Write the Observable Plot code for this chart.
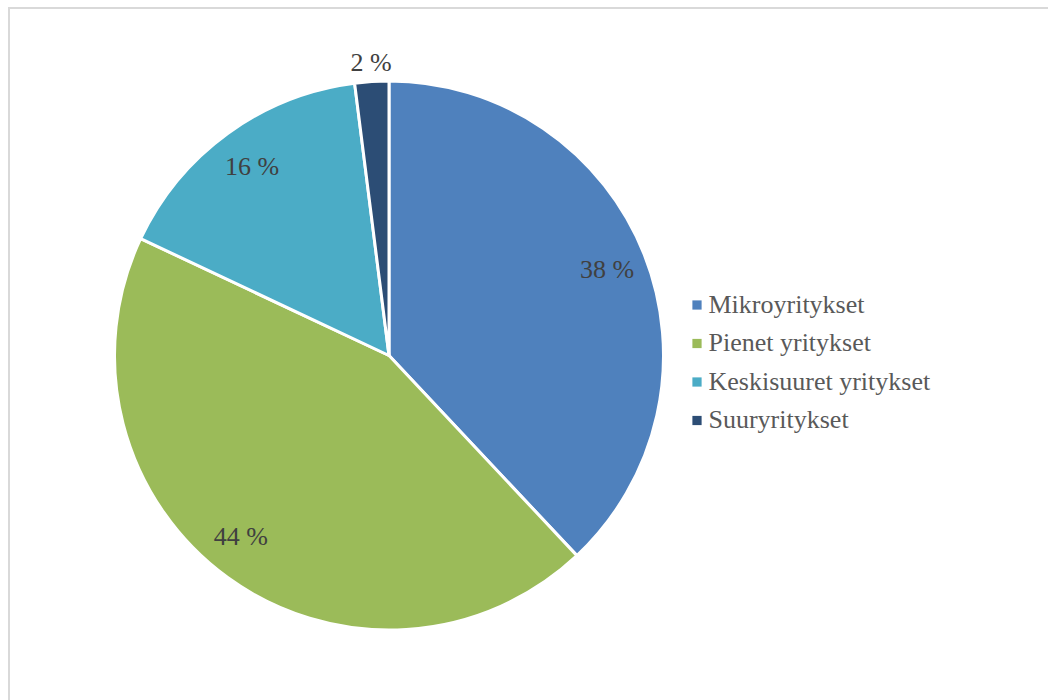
<!DOCTYPE html>
<html>
<head>
<meta charset="utf-8">
<script src="https://cdn.jsdelivr.net/npm/d3@7"></script>
<script src="https://cdn.jsdelivr.net/npm/@observablehq/plot@0.6"></script>
<style>
  html, body { margin: 0; padding: 0; background: #fff; }
  #chart svg { display: block; }
  #dummy { position: absolute; left: 0; top: 0; width: 1px; height: 1px; overflow: hidden; }
</style>
</head>
<body>
<svg id="dummy" width="1" height="1" aria-hidden="true"><text x="0" y="0" font-family="Liberation Serif" font-size="1" fill-opacity="0">.</text></svg>
<div id="chart"></div>
<script>
// Data
const categories = ["Mikroyritykset", "Pienet yritykset", "Keskisuuret yritykset", "Suuryritykset"];
const shares = [38, 44, 16, 2];
const labels = ["38 %", "44 %", "16 %", "2 %"];
const colors = ["#4F81BD", "#9BBB59", "#4BACC6", "#2C4D75"];

const W = 1048, H = 700;
const cx = 389, cy = 355.5, R = 274.5;
const font = "Liberation Serif";

const rows = categories.map((c, i) => ({category: c, value: shares[i], label: labels[i]}));
const pie = d3.pie().sort(null).value(d => d.value)(rows);

// label positions (radial); the small slice's label sits outside the pie
const labelPos = pie.map(p => {
  const big = p.data.value >= 40;
  const a = (p.startAngle + p.endAngle) / 2 + (big ? 0.06 : 0);
  const r = p.data.value < 5 ? 294 : 234;
  return {label: p.data.label, x: cx + r * Math.sin(a), y: cy - r * Math.cos(a)};
});

const legendRows = categories.map((c, i) => ({category: c, i}));

const pieMark = (index, scales) => {
  const g = d3.create("svg:g");
  const X = scales.x(cx), Y = scales.y(cy);
  const arc = d3.arc().innerRadius(0).outerRadius(R);
  g.attr("transform", `translate(${X},${Y})`);
  g.selectAll("path").data(pie).join("path")
    .attr("d", arc)
    .attr("fill", d => scales.color(d.data.category))
    .attr("stroke", "#fff")
    .attr("stroke-width", 3)
    .attr("stroke-linejoin", "round");
  return g.node();
};

function draw() {
  const chart = Plot.plot({
    width: W,
    height: H,
    margin: 0,
    x: {domain: [0, W], range: [0, W], axis: null},
    y: {domain: [0, H], range: [0, H], axis: null},
    color: {domain: categories, range: colors},
    marks: [
      Plot.ruleX([8.5], {y1: 7, y2: H, stroke: "#d9d9d9", strokeWidth: 2}),
      Plot.ruleY([7.5], {x1: 8, x2: W, stroke: "#d9d9d9", strokeWidth: 2}),
      pieMark,
      Plot.text(labelPos, {x: "x", y: "y", text: "label", fill: "#404040", fontSize: 26, fontFamily: font, textAnchor: "middle", lineAnchor: "middle"}),
      Plot.dot(legendRows, {x: 696.5, y: d => 304.5 + d.i * 38.5, symbol: "square", r: 5.2, fill: "category", stroke: null}),
      Plot.text(legendRows, {x: 708, y: d => 304 + d.i * 38.5, text: "category", fill: "#595959", fontSize: 26, fontFamily: font, textAnchor: "start", lineAnchor: "middle"})
    ]
  });
  const host = document.getElementById("chart");
  host.innerHTML = "";
  host.appendChild(chart);
}
draw();
setTimeout(draw, 0);
</script>
</body>
</html>
